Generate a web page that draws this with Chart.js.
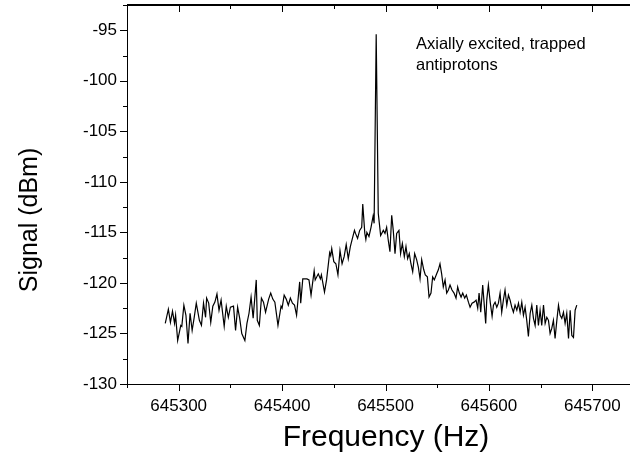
<!DOCTYPE html>
<html>
<head>
<meta charset="utf-8">
<script src="https://cdn.jsdelivr.net/npm/chart.js@4/dist/chart.umd.min.js"></script>
<style>
  body { margin: 0; overflow: hidden; background: #fff; }
  canvas { display: block; }
</style>
</head>
<body>
<canvas id="grafico" width="660" height="463"></canvas>
<script>
// frecuencias (Hz) y señal (dBm)
const frecuencias = [
  645287, 645290, 645292, 645294, 645296, 645297, 645299, 645302, 645303, 645305,
  645307, 645309, 645311, 645313, 645315, 645317, 645320, 645322, 645324, 645326,
  645327, 645329, 645331, 645333, 645335, 645337, 645339, 645341, 645344, 645346,
  645348, 645350, 645353, 645355, 645357, 645359, 645361, 645364, 645366, 645368,
  645370, 645372, 645375, 645376, 645378, 645380, 645382, 645384, 645387, 645389,
  645391, 645393, 645396, 645399, 645400, 645402, 645404, 645406, 645408, 645410,
  645412, 645414, 645417, 645418, 645420, 645422, 645424, 645426, 645428, 645431,
  645432, 645435, 645437, 645438, 645441, 645443, 645446, 645447, 645448, 645450,
  645452, 645454, 645456, 645458, 645460, 645462, 645464, 645466, 645468, 645470,
  645471, 645473, 645475, 645477, 645478, 645480, 645481, 645482, 645484, 645486,
  645488, 645489, 645491,
  645493, 645495.3, 645497.9, 645499.5, 645501.1, 645502.7, 645504.3, 645506, 645507.5, 645509.2,
  645510.8, 645513, 645514.6, 645516.3, 645518.2, 645519.8, 645521.4, 645523, 645524.6, 645526.3,
  645528.2, 645530.1, 645531.7, 645533.4, 645535, 645537, 645538.5, 645540.5, 645542.1, 645544,
  645545.6, 645547.2, 645549.5, 645551.1, 645552.7, 645554.3, 645555.9, 645557.6, 645559.2, 645560.8,
  645562.4, 645564.3, 645566.3, 645568.2, 645569.8, 645571.4, 645573.1, 645574.7, 645576.6, 645578.2,
  645580.2, 645581.8, 645583.7, 645585.6, 645587.6, 645589.2, 645590.5, 645592.1, 645594, 645595.3,
  645596.9, 645597.9, 645599.5, 645601.4, 645603.1, 645604.4, 645606, 645607.6, 645609.2, 645610.8,
  645612.4, 645614, 645615.6, 645617.3, 645618.9, 645620.5, 645622.1, 645623.7, 645625.3, 645627,
  645628.6, 645630.2, 645631.8, 645633.4, 645635, 645636.6, 645638.2, 645639.9, 645641.5, 645643.1,
  645644.7, 645646.3, 645647.9, 645649.5, 645651.1, 645652.8, 645654.4, 645656, 645657.6, 645659.2,
  645660.8, 645662.4, 645664, 645665.7, 645667.3, 645668.9, 645670.5, 645672.1, 645673.7, 645675.3,
  645677, 645678.6, 645680.2, 645681.8, 645683.4, 645685
];
const senal = [
  -124.0, -122.6, -123.9, -122.8, -124.0, -123.2, -125.7, -124.2, -124.3, -122.2,
  -123.2, -126.0, -123.0, -124.7, -123.4, -122.0, -123.7, -124.2, -122.0, -123.4,
  -121.5, -122.0, -123.9, -122.3, -121.9, -121.1, -122.7, -121.7, -124.3, -122.3,
  -123.4, -122.4, -122.3, -124.7, -122.4, -123.5, -125.0, -125.7, -124.0, -123.0,
  -121.4, -123.5, -119.7, -123.7, -124.2, -121.5, -121.9, -122.9, -121.6, -121.0,
  -121.6, -121.9, -124.2, -122.3, -122.5, -121.2, -121.6, -122.2, -121.5, -122.0,
  -122.2, -123.2, -119.9, -122.0, -119.6, -119.6, -119.6, -119.7, -121.2, -118.8,
  -119.7, -119.1, -119.6, -119.2, -120.9, -119.7, -117.0, -117.3, -116.6, -117.9,
  -118.1, -119.2, -116.8, -118.1, -117.4, -116.2, -117.6, -116.4, -115.6, -114.8,
  -115.1, -115.6, -114.8, -114.5, -112.2, -115.1, -115.7, -115.0, -115.4, -114.5,
  -113.4, -114.1, -95.4,
  -113.1, -115.3, -114.8, -115.1, -114.5, -115.8, -116.9, -113.3, -114.8, -117.1,
  -115.1, -114.8, -117.1, -116.1, -117.4, -116.4, -117.6, -117.1, -118.1, -118.9,
  -117.1, -117.7, -118.4, -119.6, -117.7, -118.7, -119.2, -119.4, -121.4, -121.0,
  -119.4, -119.7, -119.1, -118.7, -118.1, -119.1, -120.4, -119.7, -121.0, -120.7,
  -120.2, -120.7, -121.0, -121.5, -120.4, -121.0, -121.4, -121.0, -121.5, -121.2,
  -121.9, -122.4, -122.0, -121.9, -121.7, -122.5, -121.0, -122.9, -120.2, -121.9,
  -124.0, -121.7, -120.2, -122.0, -123.3, -122.2, -121.9, -122.4, -122.0, -121.0,
  -122.9, -121.7, -120.7, -122.2, -121.2, -121.7, -122.4, -122.9, -122.2, -122.7,
  -122.0, -122.9, -121.9, -123.2, -122.4, -123.7, -125.3, -123.0, -122.2, -123.5,
  -124.2, -122.2, -124.2, -122.7, -124.2, -122.2, -124.0, -123.4, -123.7, -125.0,
  -124.5, -123.7, -125.5, -123.7, -122.2, -123.2, -123.5, -122.9, -124.0, -123.0,
  -125.5, -122.7, -125.2, -125.4, -122.7, -122.2
];
const rangoX = [645250, 645750];
const rangoY = [-130, -92.5];
const tituloX = "Frequency (Hz)";
const tituloY = "Signal (dBm)";
const nota = ["Axially excited, trapped", "antiprotons"];

const fuente = "'Liberation Sans', Arial, sans-serif";

const puntos = frecuencias.map((f, i) => ({ x: f, y: senal[i] }));

// marcas de los ejes, marco superior, titulos y nota
const marcasPlugin = {
  id: "marcas",
  afterDraw(chart) {
    const ctx = chart.ctx;
    const area = chart.chartArea;
    const ejeX = chart.scales.x;
    const ejeY = chart.scales.y;
    const arriba = Math.round(area.top);
    const abajo = Math.round(area.bottom);
    const izq = Math.round(area.left);
    const der = Math.round(area.right);
    ctx.save();
    ctx.globalCompositeOperation = "source-over";
    ctx.globalAlpha = 1;
    ctx.setLineDash([]);
    ctx.fillStyle = "#000";
    ctx.fillRect(izq, arriba - 1, der - izq, 2);
    ejeX.ticks.forEach((t) => {
      const px = Math.round(ejeX.getPixelForValue(t.value));
      const largo = t.value % 100 === 0 ? 7 : 4;
      ctx.fillRect(px, abajo, 1, largo);
      ctx.fillRect(px, arriba, 1, largo);
    });
    ejeY.ticks.forEach((t) => {
      const py = Math.round(ejeY.getPixelForValue(t.value));
      const largo = t.value % 5 === 0 ? 7 : 4;
      ctx.fillRect(izq - largo, py, largo, 1);
    });

    ctx.textAlign = "center";
    ctx.textBaseline = "middle";
    ctx.font = "30px " + fuente;
    ctx.fillText(tituloX, 386, 438);
    ctx.save();
    ctx.translate(30, 220);
    ctx.rotate(-Math.PI / 2);
    ctx.font = "25px " + fuente;
    ctx.fillText(tituloY, 0, 0);
    ctx.restore();

    ctx.textAlign = "left";
    ctx.textBaseline = "alphabetic";
    ctx.font = "16.5px " + fuente;
    ctx.fillText(nota[0], 416, 49);
    ctx.fillText(nota[1], 416, 70);
    ctx.restore();
  },
};

const grafico = new Chart(document.getElementById("grafico").getContext("2d"), {
  type: "line",
  data: {
    datasets: [
      {
        data: puntos,
        borderColor: "#000",
        borderWidth: 1.2,
        pointRadius: 0,
        tension: 0,
        fill: false,
      },
    ],
  },
  options: {
    responsive: false,
    animation: false,
    layout: { padding: { top: 5, right: 16, left: 0, bottom: 0 } },
    plugins: { legend: { display: false }, tooltip: { enabled: false } },
    scales: {
      x: {
        type: "linear",
        min: rangoX[0],
        max: rangoX[1],
        afterFit: (eje) => {
          eje.height = 79;
          eje.paddingLeft = 0;
          eje.paddingRight = 0;
        },
        grid: { display: false, drawTicks: false },
        border: { display: true, color: "#000", width: 1 },
        ticks: {
          stepSize: 50,
          autoSkip: false,
          maxRotation: 0,
          padding: 12,
          color: "#000",
          font: { family: fuente, size: 17 },
          callback: (v) => (v % 100 === 0 ? String(v) : ""),
        },
      },
      y: {
        min: rangoY[0],
        max: rangoY[1],
        afterFit: (eje) => {
          eje.width = 127;
          eje.paddingTop = 0;
          eje.paddingBottom = 0;
        },
        grid: { display: false, drawTicks: false },
        border: { display: true, color: "#000", width: 1 },
        ticks: {
          stepSize: 2.5,
          autoSkip: false,
          padding: 10,
          color: "#000",
          font: { family: fuente, size: 17 },
          callback: (v) => (v % 5 === 0 ? String(v) : ""),
        },
      },
    },
  },
  plugins: [marcasPlugin],
});
</script>
</body>
</html>
